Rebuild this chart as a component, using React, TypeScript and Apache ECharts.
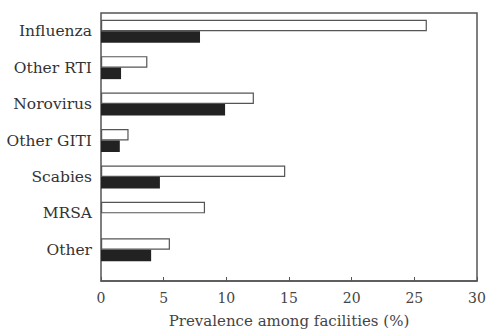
import React, { useEffect, useRef } from "react";
import * as echarts from "echarts";

const categories = ["Influenza", "Other RTI", "Norovirus", "Other GITI", "Scabies", "MRSA", "Other"];
const whiteValues = [26.0, 3.7, 12.2, 2.2, 14.7, 8.3, 5.5];
const blackValues = [7.9, 1.6, 9.9, 1.5, 4.7, 0, 4.0];
const xTicks = { min: 0, max: 30, interval: 5 };
const xName = "Prevalence among facilities (%)";

export default function App() {
  const ref = useRef<HTMLDivElement>(null);
  useEffect(() => {
    if (!ref.current) return;
    const chart = echarts.init(ref.current, undefined, { renderer: "svg" });
    const font = "DejaVu Serif";
    chart.setOption({
      animation: false,
      backgroundColor: "#ffffff",
      grid: [
        { left: 101, right: 13, top: 13, height: 255, show: false },
        { left: 101, right: 13, top: 13, height: 273, show: true, borderColor: "#555", borderWidth: 1.5, backgroundColor: "transparent" },
      ],
      xAxis: [
        { gridIndex: 0, type: "value", min: xTicks.min, max: xTicks.max, show: false },
        {
          gridIndex: 1,
          type: "value",
          min: xTicks.min,
          max: xTicks.max,
          interval: xTicks.interval,
          axisLine: { show: true, lineStyle: { color: "#555", width: 1.5 } },
          axisTick: { show: true, inside: true, length: 4, lineStyle: { color: "#555" } },
          splitLine: { show: false },
          axisLabel: { fontFamily: font, fontSize: 14, color: "#444", margin: 10 },
          name: xName,
          nameLocation: "middle",
          nameGap: 32,
          nameTextStyle: { fontFamily: font, fontSize: 15, color: "#444" },
        },
      ],
      yAxis: [
        {
          gridIndex: 0,
          type: "category",
          data: categories,
          inverse: true,
          axisLine: { show: false },
          axisTick: { show: false },
          axisLabel: { fontFamily: font, fontSize: 15.5, color: "#333", margin: 9 },
        },
        { gridIndex: 1, type: "value", show: false },
      ],
      series: [
        {
          type: "bar",
          xAxisIndex: 0,
          yAxisIndex: 0,
          data: whiteValues,
          barWidth: 11.5,
          barGap: "0%",
          itemStyle: { color: "#ffffff", borderColor: "#555", borderWidth: 1.2 },
        },
        {
          type: "bar",
          xAxisIndex: 0,
          yAxisIndex: 0,
          data: blackValues,
          barWidth: 11.5,
          barGap: "0%",
          itemStyle: { color: "#222222" },
        },
      ],
    });
    return () => chart.dispose();
  }, []);
  return <div ref={ref} style={{ position: "fixed", left: 0, top: 0, width: 490, height: 333 }} />;
}
